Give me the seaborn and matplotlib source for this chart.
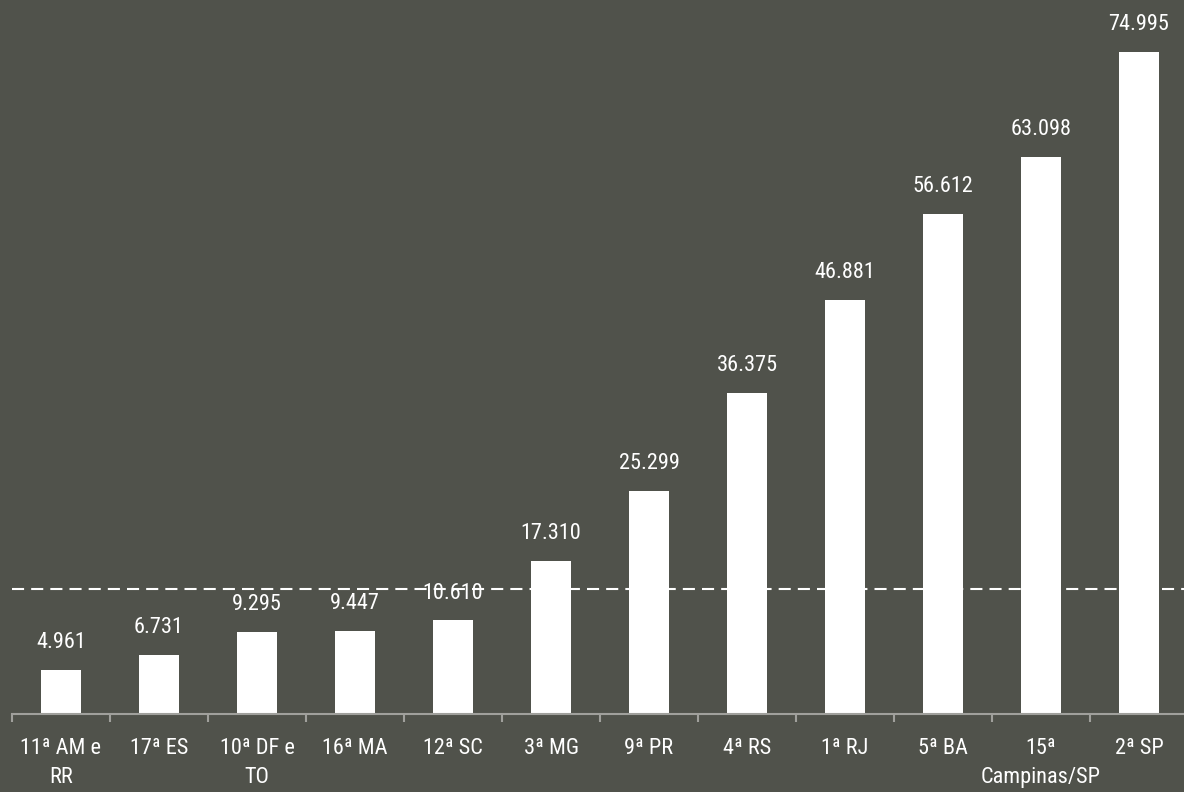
import matplotlib
matplotlib.use("Agg")
import matplotlib.pyplot as plt
import seaborn as sns
import pandas as pd
from matplotlib import font_manager

categories = ["11ª AM e\nRR", "17ª ES", "10ª DF e\nTO", "16ª MA", "12ª SC", "3ª MG",
              "9ª PR", "4ª RS", "1ª RJ", "5ª BA", "15ª\nCampinas/SP", "2ª SP"]
values = [4961, 6731, 9295, 9447, 10610, 17310, 25299, 36375, 46881, 56612, 63098, 74995]
value_labels = ["4.961", "6.731", "9.295", "9.447", "10.610", "17.310", "25.299",
                "36.375", "46.881", "56.612", "63.098", "74.995"]
reference_line = 14200

bg = "#50524b"
sns.set_theme(style="white")
names = {f.name for f in font_manager.fontManager.ttflist}
cands = ["Roboto Condensed", "Liberation Sans Narrow", "Open Sans Condensed",
         "Noto Sans Condensed", "DejaVu Sans Condensed", "DejaVu Sans"]
fam = [f for f in cands if f in names]
plt.rcParams['font.family'] = fam
plt.rcParams['font.stretch'] = 'condensed'

df = pd.DataFrame({"cat": categories, "val": values})

fig = plt.figure(figsize=(11.84, 7.92), dpi=100, facecolor=bg)
ax = fig.add_axes([12/1184, 78/792, 1176/1184, 714/792])
ax.set_facecolor(bg)

sns.barplot(data=df, x="cat", y="val", color="white", width=0.4, ax=ax,
            saturation=1, edgecolor="none")

for i, (v, lab) in enumerate(zip(values, value_labels)):
    ax.text(i, v + 1900, lab, ha="center", va="bottom", color="white", fontsize=16,
            fontstretch="condensed", zorder=3)

ax.axhline(reference_line, color="white", lw=1.5, linestyle=(0, (5.8, 3.4)), zorder=5)

ax.set_xlim(-0.5, 11.5)
ax.set_ylim(0, 80840)
ax.set_xlabel("")
ax.set_ylabel("")
ax.set_yticks([])
for s in ["top", "right", "left"]:
    ax.spines[s].set_visible(False)
ax.spines["bottom"].set_color("#a0a09c")
ax.spines["bottom"].set_linewidth(1.5)

ax.set_xticks(range(len(categories)))
ax.set_xticklabels(categories, color="white", fontsize=16, linespacing=1.5,
                   fontstretch="condensed")
ax.tick_params(axis="x", which="major", length=0, pad=17)
ax.set_xticks([i - 0.5 for i in range(len(categories) + 1)], minor=True)
ax.tick_params(axis="x", which="minor", bottom=True, length=6, width=1.5,
               color="#a0a09c", direction="out")

fig.savefig("out.png", dpi=100, facecolor=bg)
